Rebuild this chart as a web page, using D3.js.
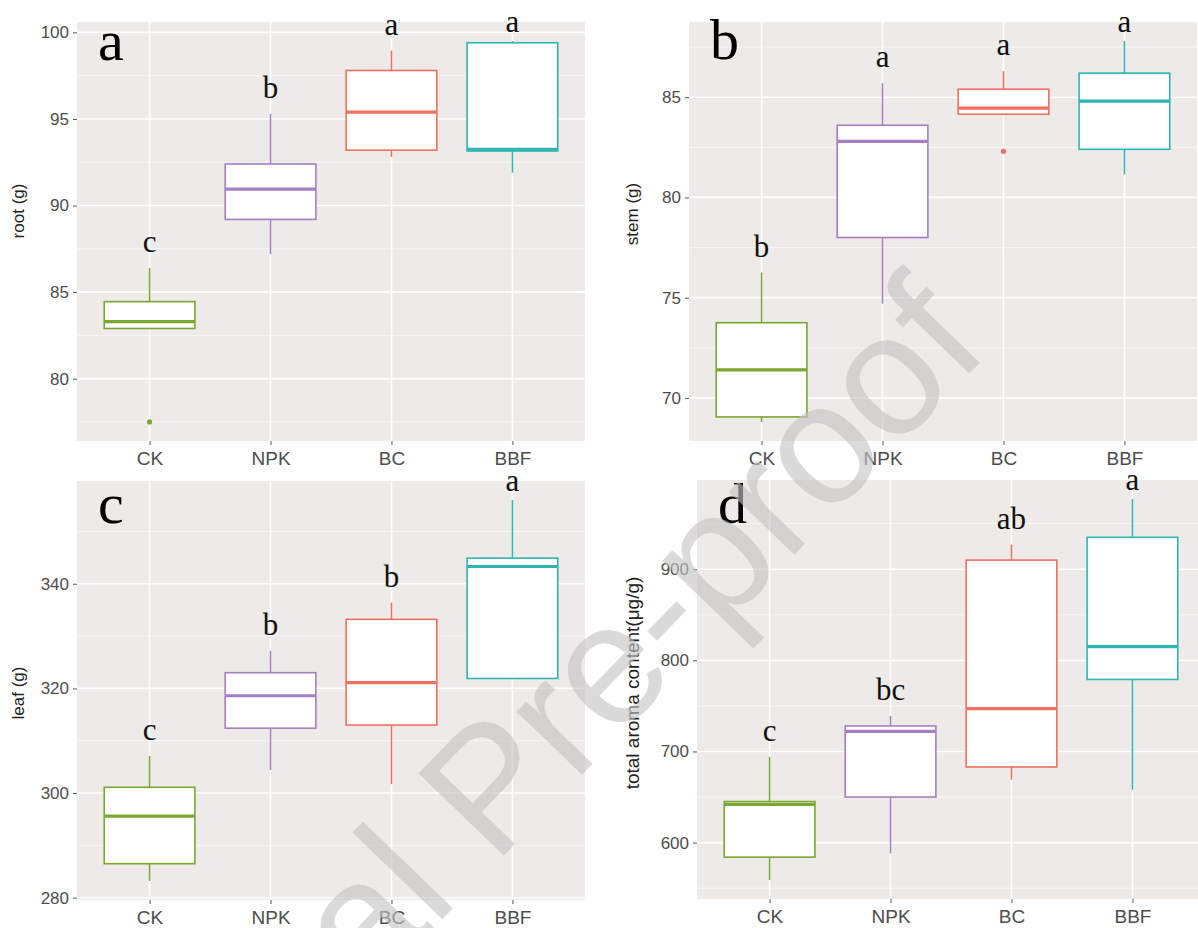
<!DOCTYPE html>
<html>
<head>
<meta charset="utf-8">
<script src="https://cdn.jsdelivr.net/npm/d3@7"></script>
<style>
  body { margin: 0; background: #fff; }
  .axis text { font-family: "Liberation Sans", Arial, sans-serif; fill: #4d4d4d; }
  .axis line { stroke: #555; }
  .axis path { display: none; }
  .ytitle { font-family: "Liberation Sans", Arial, sans-serif; fill: #222; }
  .sig { font-family: "Liberation Serif", "Times New Roman", serif; fill: #111; }
  .tag { font-family: "Liberation Serif", "Times New Roman", serif; fill: #000; }
</style>
</head>
<body>
<svg id="chart" width="1198" height="928"></svg>
<script>

// treatments and their colours
var groups = ["CK", "NPK", "BC", "BBF"];
var groupColors = ["#7aa632", "#a67fc2", "#f0705f", "#2fb5b2"];

// box summaries per group: [lower whisker, Q1, median, Q3, upper whisker]
var rootStats = [
    [82.9, 82.9, 83.3, 84.45, 86.4],
    [87.2, 89.2, 90.95, 92.4, 95.3],
    [92.8, 93.2, 95.4, 97.8, 98.95],
    [91.9, 93.15, 93.25, 99.4, 99.5]
];
var rootOutliers = [[77.5], [], [], []];
var rootLetters = ["c", "b", "a", "a"];
var rootTicks = [80, 85, 90, 95, 100];

var stemStats = [
    [68.8, 69.05, 71.4, 73.75, 76.25],
    [74.7, 78.0, 82.8, 83.6, 85.7],
    [84.15, 84.15, 84.45, 85.4, 86.3],
    [81.15, 82.4, 84.8, 86.2, 87.8]
];
var stemOutliers = [[], [], [82.3], []];
var stemLetters = ["b", "a", "a", "a"];
var stemTicks = [70, 75, 80, 85];

var leafStats = [
    [283.2, 286.5, 295.6, 301.1, 307.1],
    [304.4, 312.4, 318.6, 323.0, 327.2],
    [301.7, 313.0, 321.1, 333.2, 336.4],
    [321.9, 321.9, 343.3, 344.9, 356.0]
];
var leafOutliers = [[], [], [], []];
var leafLetters = ["c", "b", "b", "a"];
var leafTicks = [280, 300, 320, 340];

var aromaStats = [
    [559, 584, 642, 645, 694],
    [588, 650, 722, 728, 739],
    [669, 683, 747, 910, 927],
    [658, 779, 815, 935, 977]
];
var aromaOutliers = [[], [], [], []];
var aromaLetters = ["c", "bc", "ab", "a"];
var aromaTicks = [600, 700, 800, 900];


/*
 * BoxPanel - one ggplot-style box plot panel
 */
BoxPanel = function(_svg, _opts) {
    this.svg = _svg;
    this.opts = _opts;
    this.initVis();
}

BoxPanel.prototype.initVis = function() {
    var vis = this;
    var o = vis.opts;

    vis.width = 508;
    vis.height = 419;

    vis.g = vis.svg.append("g")
        .attr("transform", "translate(" + o.left + "," + o.top + ")");

    vis.g.append("rect")
        .attr("width", vis.width)
        .attr("height", vis.height)
        .attr("fill", "#edeae8");

    // y range = data range + 5% each side (ggplot default)
    var values = [];
    o.stats.forEach(function(s) { values = values.concat(s); });
    o.outliers.forEach(function(s) { values = values.concat(s); });
    var ext = d3.extent(values);
    var pad = (ext[1] - ext[0]) * 0.05;

    vis.y = d3.scaleLinear()
        .domain([ext[0] - pad, ext[1] + pad])
        .range([vis.height, 0]);

    vis.x = d3.scalePoint()
        .domain(groups)
        .range([0, vis.width])
        .padding(0.6);

    vis.boxWidth = vis.x.step() * 0.75;

    // minor grid between the breaks
    var step = o.ticks[1] - o.ticks[0];
    var minor = [o.ticks[0] - step / 2].concat(o.ticks.map(function(t) { return t + step / 2; }));
    minor = minor.filter(function(m) { return m > vis.y.domain()[0] && m < vis.y.domain()[1]; });

    vis.g.selectAll(".minor")
        .data(minor)
        .enter().append("line")
        .attr("class", "minor")
        .attr("x1", 0).attr("x2", vis.width)
        .attr("y1", function(d) { return vis.y(d); })
        .attr("y2", function(d) { return vis.y(d); })
        .attr("stroke", "#fafafa")
        .attr("stroke-width", 0.8);

    vis.g.selectAll(".major")
        .data(o.ticks)
        .enter().append("line")
        .attr("class", "major")
        .attr("x1", 0).attr("x2", vis.width)
        .attr("y1", function(d) { return vis.y(d); })
        .attr("y2", function(d) { return vis.y(d); })
        .attr("stroke", "#fff")
        .attr("stroke-width", 1.6);

    vis.g.selectAll(".vmajor")
        .data(groups)
        .enter().append("line")
        .attr("class", "vmajor")
        .attr("x1", function(d) { return vis.x(d); })
        .attr("x2", function(d) { return vis.x(d); })
        .attr("y1", 0).attr("y2", vis.height)
        .attr("stroke", "#fff")
        .attr("stroke-width", 1.6);

    // axes
    vis.yAxis = d3.axisLeft(vis.y).tickValues(o.ticks).tickSize(4).tickPadding(4);
    vis.xAxis = d3.axisBottom(vis.x).tickSize(4).tickPadding(7);

    vis.g.append("g")
        .attr("class", "y-axis axis")
        .call(vis.yAxis)
        .selectAll("text").style("font-size", "17px");

    vis.g.append("g")
        .attr("class", "x-axis axis")
        .attr("transform", "translate(0," + vis.height + ")")
        .call(vis.xAxis)
        .selectAll("text").style("font-size", "19px");

    vis.svg.append("text")
        .attr("class", "ytitle")
        .attr("transform", "translate(" + o.titleX + "," + o.titleY + ") rotate(-90)")
        .attr("text-anchor", "middle")
        .style("font-size", o.titleSize + "px")
        .text(o.title);

    vis.g.append("text")
        .attr("class", "tag")
        .attr("x", 21)
        .attr("y", o.tagY)
        .style("font-size", "58px")
        .text(o.tag);

    vis.updateVis();
}

BoxPanel.prototype.updateVis = function() {
    var vis = this;
    var o = vis.opts;

    var boxes = vis.g.selectAll(".box")
        .data(o.stats)
        .enter().append("g")
        .attr("class", "box")
        .attr("transform", function(d, i) { return "translate(" + vis.x(groups[i]) + ",0)"; });

    // whiskers
    boxes.append("line")
        .attr("y1", function(d) { return vis.y(d[4]); })
        .attr("y2", function(d) { return vis.y(d[3]); })
        .attr("stroke", function(d, i) { return groupColors[i]; })
        .attr("stroke-width", 1.5);

    boxes.append("line")
        .attr("y1", function(d) { return vis.y(d[1]); })
        .attr("y2", function(d) { return vis.y(d[0]); })
        .attr("stroke", function(d, i) { return groupColors[i]; })
        .attr("stroke-width", 1.5);

    boxes.append("rect")
        .attr("x", -vis.boxWidth / 2)
        .attr("width", vis.boxWidth)
        .attr("y", function(d) { return vis.y(d[3]); })
        .attr("height", function(d) { return vis.y(d[1]) - vis.y(d[3]); })
        .attr("fill", "#fff")
        .attr("stroke", function(d, i) { return groupColors[i]; })
        .attr("stroke-width", 1.6);

    boxes.append("line")
        .attr("x1", -vis.boxWidth / 2)
        .attr("x2", vis.boxWidth / 2)
        .attr("y1", function(d) { return vis.y(d[2]); })
        .attr("y2", function(d) { return vis.y(d[2]); })
        .attr("stroke", function(d, i) { return groupColors[i]; })
        .attr("stroke-width", 3.2);

    boxes.each(function(d, i) {
        d3.select(this).selectAll("circle")
            .data(o.outliers[i])
            .enter().append("circle")
            .attr("r", 2.6)
            .attr("cy", function(v) { return vis.y(v); })
            .attr("fill", groupColors[i]);
    });

    // significance letters above the upper whisker, kept near the panel top
    boxes.append("text")
        .attr("class", "sig")
        .attr("text-anchor", "middle")
        .attr("y", function(d) {
            var yw = vis.y(d[4]);
            return Math.max(yw - 16, Math.min(10, yw - 9));
        })
        .style("font-size", "31px")
        .text(function(d, i) { return o.letters[i]; });
}


var svg = d3.select("#chart");

new BoxPanel(svg, { left: 77, top: 22, stats: rootStats, outliers: rootOutliers, letters: rootLetters,
    ticks: rootTicks, tag: "a", tagY: 38, title: "root (g)", titleX: 24, titleY: 211, titleSize: 17 });
new BoxPanel(svg, { left: 689, top: 22, stats: stemStats, outliers: stemOutliers, letters: stemLetters,
    ticks: stemTicks, tag: "b", tagY: 37, title: "stem (g)", titleX: 638, titleY: 214, titleSize: 17 });
new BoxPanel(svg, { left: 77, top: 481, stats: leafStats, outliers: leafOutliers, letters: leafLetters,
    ticks: leafTicks, tag: "c", tagY: 42, title: "leaf (g)", titleX: 24, titleY: 693, titleSize: 17 });
new BoxPanel(svg, { left: 697, top: 480, stats: aromaStats, outliers: aromaOutliers, letters: aromaLetters,
    ticks: aromaTicks, tag: "d", tagY: 43, title: "total aroma content(\u03bcg/g)", titleX: 639, titleY: 683, titleSize: 19 });

// "Journal Pre-proof" watermark across the page
svg.append("text")
    .attr("transform", "translate(992,350) rotate(-46)")
    .attr("text-anchor", "end")
    .style("font-family", "'Liberation Sans', Arial, sans-serif")
    .style("font-size", "172px")
    .attr("fill", "#c4c4c4")
    .attr("opacity", 0.62)
    .text("Journal Pre-proof");

</script>
</body>
</html>
